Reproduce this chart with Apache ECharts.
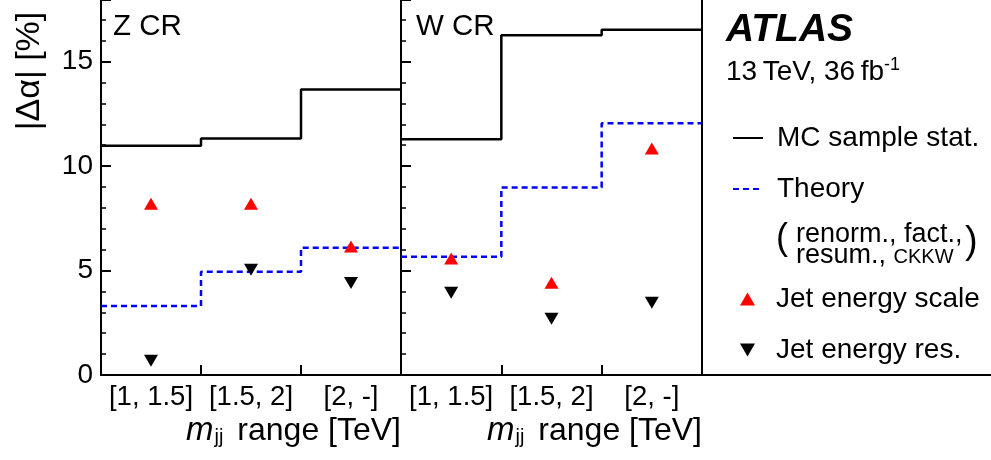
<!DOCTYPE html>
<html>
<head>
<meta charset="utf-8">
<script src="https://cdn.jsdelivr.net/npm/echarts@6/dist/echarts.min.js"></script>
<style>html,body{margin:0;padding:0;background:#fff;}#c{width:991px;height:460px;}</style>
</head>
<body>
<div id="c"></div>
<script>
// ---- data ----
const bins = ['[1, 1.5]', '[1.5, 2]', '[2, -]'];
const zMC = [10.97, 11.32, 13.66];
const zTheory = [3.30, 4.94, 6.09];
const zJES = [8.20, 8.20, 6.15];
const zJER = [0.68, 5.04, 4.40];
const wMC = [11.29, 16.26, 16.53];
const wTheory = [5.66, 8.98, 12.05];
const wJES = [5.58, 4.41, 10.84];
const wJER = [3.94, 2.69, 3.46];
const yTickStep = 5;
const panelLabels = ['Z CR', 'W CR'];

// ---- helpers ----
const FF = '"Liberation Sans", Arial, Helvetica, sans-serif';
function stepData(vals) {
  const pts = [];
  vals.forEach((v, i) => { pts.push([i, v]); pts.push([i + 1, v]); });
  return pts;
}
const DOWN_TRI = 'path://M0,0L10,0L5,8.66Z';
const axisLine = { show: true, lineStyle: { color: '#000', width: 2 } };

function catAxis(g) {
  return {
    type: 'category', gridIndex: g, data: bins, boundaryGap: true,
    axisLine: axisLine,
    axisTick: { show: true, inside: true, length: 10, alignWithLabel: false, lineStyle: { color: '#000', width: 2 } },
    axisLabel: { color: '#000', fontSize: 27.5, fontFamily: FF, margin: 8, interval: 0, hideOverlap: false },
    splitLine: { show: false },
    name: '{i|m}{s|jj} range [TeV]',
    nameLocation: 'end', nameGap: 0, nameMoveOverlap: false,
    nameTextStyle: {
      color: '#000', fontSize: 32, fontFamily: FF, align: 'right', verticalAlign: 'top',
      padding: [39, 0, 0, 0], lineHeight: 34,
      rich: {
        i: { fontStyle: 'italic', fontSize: 33, fontFamily: FF, color: '#000', lineHeight: 34 },
        s: { fontSize: 20, fontFamily: FF, color: '#000', lineHeight: 20, padding: [13, 5, 0, 1] }
      }
    }
  };
}
function valX(g) {
  return { type: 'value', gridIndex: g, min: 0, max: 3, show: false };
}
function yAx(g, labels) {
  return {
    type: 'value', gridIndex: g, min: 0, max: 17.95, interval: yTickStep,
    axisLine: axisLine,
    axisTick: { show: true, inside: true, length: 10, lineStyle: { color: '#000', width: 2 } },
    minorTick: { show: true, splitNumber: 5, length: 5, lineStyle: { color: '#000', width: 1.5 } },
    axisLabel: {
      show: labels, color: '#000', fontSize: 28, fontFamily: FF, margin: 8,
      formatter: v => (Math.abs(v / yTickStep - Math.round(v / yTickStep)) < 1e-6 ? String(v) : '')
    },
    splitLine: { show: false }
  };
}
function lineSeries(name, xi, yi, vals, color, type) {
  return {
    name, type: 'line', xAxisIndex: xi, yAxisIndex: yi, data: stepData(vals),
    symbol: 'none', lineStyle: { color, width: 2.5, type: type }, itemStyle: { color },
    silent: true, z: 3
  };
}
function scatterSeries(name, xi, yi, vals, color, symbol) {
  return {
    name, type: 'scatter', xAxisIndex: xi, yAxisIndex: yi, data: vals,
    symbol, symbolSize: [14, 12], itemStyle: { color, opacity: 1 }, silent: true, z: 4
  };
}

const chart = echarts.init(document.getElementById('c'), null, { renderer: 'canvas' });
const option = {
  animation: false,
  backgroundColor: '#fff',
  grid: [
    { left: 101, top: 0, right: 590, bottom: 85 },
    { left: 401, top: 0, right: 289, bottom: 85 },
    { left: 702, top: 0, right: 0, bottom: 85 }
  ],
  xAxis: [
    catAxis(0), valX(0), catAxis(1), valX(1),
    { type: 'value', gridIndex: 2, min: 0, max: 1, axisLine: axisLine, axisTick: { show: false }, axisLabel: { show: false }, splitLine: { show: false } }
  ],
  yAxis: [
    yAx(0, true), yAx(1, false),
    { type: 'value', gridIndex: 2, min: 0, max: 1, axisLine: axisLine, axisTick: { show: false }, axisLabel: { show: false }, splitLine: { show: false } }
  ],
  legend: [
    {
      data: ['MC sample stat.', 'Theory'], orient: 'vertical', left: 732, top: 122, padding: 0,
      itemWidth: 30, itemHeight: 14, itemGap: 19, selectedMode: false,
      itemStyle: { color: 'rgba(0,0,0,0)', borderColor: 'rgba(0,0,0,0)', borderWidth: 0 },
      textStyle: { color: '#000', fontSize: 28, fontFamily: FF, lineHeight: 32, padding: [0, 0, 0, 9] }
    },
    {
      data: ['Jet energy scale', 'Jet energy res.'], orient: 'vertical', left: 740, top: 283, padding: 0,
      itemWidth: 15, itemHeight: 13, itemGap: 19, selectedMode: false,
      textStyle: { color: '#000', fontSize: 28, fontFamily: FF, lineHeight: 32, padding: [0, 0, 0, 16] }
    }
  ],
  series: [
    lineSeries('MC sample stat.', 1, 0, zMC, '#000', 'solid'),
    lineSeries('Theory', 1, 0, zTheory, '#0000ff', [6, 4]),
    scatterSeries('Jet energy scale', 0, 0, zJES, '#ff0000', 'triangle'),
    scatterSeries('Jet energy res.', 0, 0, zJER, '#000', DOWN_TRI),
    lineSeries('MC sample stat.', 3, 1, wMC, '#000', 'solid'),
    lineSeries('Theory', 3, 1, wTheory, '#0000ff', [6, 4]),
    scatterSeries('Jet energy scale', 2, 1, wJES, '#ff0000', 'triangle'),
    scatterSeries('Jet energy res.', 2, 1, wJER, '#000', DOWN_TRI)
  ],
  graphic: [
    { type: 'text', x: 30, y: 71, rotation: Math.PI / 2,
      style: { text: '|\u0394\u03b1| [%]', fontSize: 34, fontFamily: FF, fill: '#000', textAlign: 'center', textVerticalAlign: 'middle' } },
    { type: 'text', x: 113, y: 27, style: { text: panelLabels[0], fontSize: 29.5, fontFamily: FF, fill: '#000', textAlign: 'left', textVerticalAlign: 'middle' } },
    { type: 'text', x: 416, y: 27, style: { text: panelLabels[1], fontSize: 29.5, fontFamily: FF, fill: '#000', textAlign: 'left', textVerticalAlign: 'middle' } },
    { type: 'text', x: 726, y: 30, style: { text: 'ATLAS', fontSize: 39, fontWeight: 'bold', fontStyle: 'italic', fontFamily: FF, fill: '#000', textAlign: 'left', textVerticalAlign: 'middle' } },
    { type: 'text', x: 726, y: 72, style: {
        text: '{n|13\u2009TeV, 36\u2009fb}{sup|-1}', textAlign: 'left', textVerticalAlign: 'middle',
        rich: {
          n: { fontSize: 28, fontFamily: FF, fill: '#000', color: '#000', lineHeight: 30 },
          sup: { fontSize: 18, fontFamily: FF, fill: '#000', color: '#000', lineHeight: 18, padding: [0, 0, 14, 0] }
        } } },
    { type: 'text', x: 776, y: 239, style: { text: '(', fontSize: 36, fontFamily: FF, fill: '#000', textAlign: 'left', textVerticalAlign: 'middle' } },
    { type: 'text', x: 965, y: 243, style: { text: ')', fontSize: 38, fontFamily: FF, fill: '#000', textAlign: 'left', textVerticalAlign: 'middle' } },
    { type: 'text', x: 796, y: 245, style: {
        text: '{t|renorm., fact.,}\n{t|resum., }{sc|CKKW}', textAlign: 'left', textVerticalAlign: 'middle',
        rich: {
          t: { fontSize: 27, fontFamily: FF, fill: '#000', color: '#000', lineHeight: 21 },
          sc: { fontSize: 20, fontFamily: FF, fill: '#000', color: '#000', lineHeight: 21, padding: [4, 0, 0, 0] }
        } } }
  ]
};
chart.setOption(option);
</script>
</body>
</html>
